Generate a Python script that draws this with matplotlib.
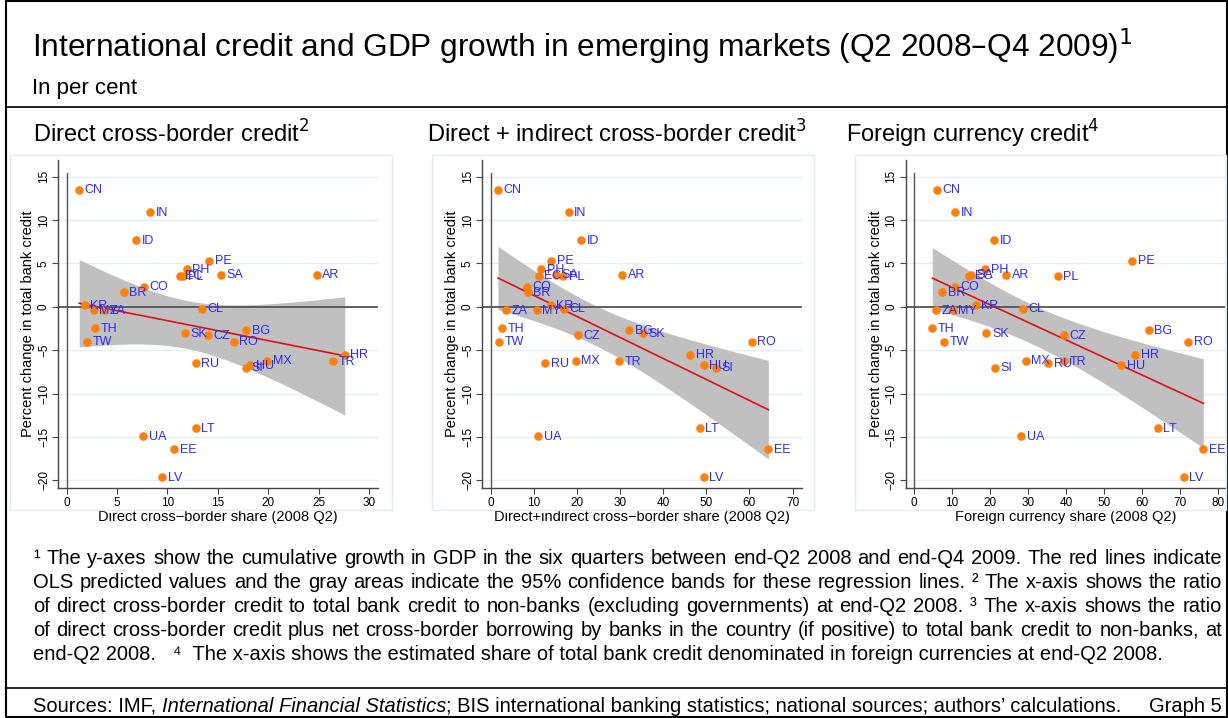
import numpy as np
import matplotlib
matplotlib.use("Agg")
import matplotlib.pyplot as plt
from matplotlib.patches import Rectangle
from matplotlib.lines import Line2D

plt.rcParams['font.family'] = ['Liberation Sans', 'DejaVu Sans']

W, H = 1228, 718

countries = ['CN', 'IN', 'ID', 'PE', 'PH', 'EC', 'PL', 'SA', 'AR', 'CO', 'BR',
             'KR', 'CL', 'MY', 'ZA', 'TH', 'SK', 'CZ', 'BG', 'RO', 'TW', 'MX',
             'TR', 'RU', 'HU', 'SI', 'HR', 'LT', 'UA', 'EE', 'LV']
credit_growth = [13.5, 10.9, 7.7, 5.3, 4.3, 3.6, 3.5, 3.7, 3.7, 2.3, 1.7,
                 0.2, -0.2, -0.35, -0.35, -2.5, -3.0, -3.3, -2.7, -4.0, -4.0, -6.2,
                 -6.3, -6.5, -6.7, -7.0, -5.5, -14.0, -14.9, -16.4, -19.6]
direct_share = [1.25, 8.3, 6.9, 14.15, 11.9, 11.2, 11.5, 15.35, 24.8, 7.7, 5.65,
                1.8, 13.4, 2.7, 3.7, 2.8, 11.7, 14.0, 17.8, 16.6, 2.05, 19.9,
                26.4, 12.8, 18.2, 17.8, 27.6, 12.8, 7.6, 10.7, 9.5]
indirect_share = [1.67, 18.1, 20.9, 14.0, 11.7, 11.1, 16.8, 15.1, 30.5, 8.4, 8.6,
                  13.9, 17.0, 10.7, 3.5, 2.7, 35.3, 20.2, 32.1, 60.5, 1.83, 19.7,
                  29.7, 12.6, 49.4, 52.3, 46.3, 48.5, 11.0, 64.4, 49.4]
fx_share = [6.2, 10.95, 21.1, 57.4, 18.85, 14.6, 37.8, 15.0, 24.3, 10.9, 7.45,
            16.3, 28.8, 10.3, 5.8, 4.9, 19.1, 39.5, 61.8, 72.2, 8.05, 29.4,
            39.5, 35.3, 54.5, 21.4, 58.2, 64.1, 28.2, 76.1, 70.9]

panel_titles = ['Direct cross-border credit$^2$',
                'Direct + indirect cross-border credit$^3$',
                'Foreign currency credit$^4$']
x_labels = ['Direct cross\u2212border share (2008 Q2)',
            'Direct+indirect cross\u2212border share (2008 Q2)',
            'Foreign currency share (2008 Q2)']
x_ticks = [np.arange(0, 31, 5), np.arange(0, 71, 10), np.arange(0, 81, 10)]
x_lims = [(-0.83, 30.9), (-1.97, 72.2), (-2.1, 81.9)]

footnote_lines = [
    "\u00b9 The y-axes show the cumulative growth in GDP in the six quarters between end-Q2 2008 and end-Q4 2009. The red lines indicate",
    "OLS predicted values and the gray areas indicate the 95% confidence bands for these regression lines.  \u00b2 The x-axis shows the ratio",
    "of direct cross-border credit to total bank credit to non-banks (excluding governments) at end-Q2 2008.  \u00b3 The x-axis shows the ratio",
    "of direct cross-border credit plus net cross-border borrowing by banks in the country (if positive) to total bank credit to non-banks, at",
]
footnote_last = "end-Q2 2008.   \u2074  The x-axis shows the estimated share of total bank credit denominated in foreign currencies at end-Q2 2008."

ORANGE = '#FF7F0A'
BLUE = '#2A2AF5'
GRID = '#E6EFF1'
AXC = '#444444'

fig = plt.figure(figsize=(W / 100, H / 100), dpi=100)


def fx(px):
    return px / W


def fy(py):
    return 1 - py / H


# outer frame and separators
fig.add_artist(Rectangle((fx(6), fy(717)), fx(1221), 716 / H, transform=fig.transFigure,
                         fill=False, edgecolor='black', lw=1.5))
fig.add_artist(Line2D([fx(6), fx(1227)], [fy(107), fy(107)], color='black', lw=1.2))
fig.add_artist(Line2D([fx(6), fx(1227)], [fy(688), fy(688)], color='black', lw=1.2))

fig.text(fx(32), fy(57), 'International credit and GDP growth in emerging markets (Q2 2008\u2013Q4 2009)$^1$',
         fontsize=22.8, va='baseline')
fig.text(fx(32), fy(94), 'In per cent', fontsize=16, va='baseline')

panel_boxes = [(10, 392), (432, 814), (855, 1226)]
axes_left = [58.3, 482.3, 905.7]
xs_all = [direct_share, indirect_share, fx_share]
title_x = [33, 427, 846]

y = np.array(credit_growth)
for i in range(3):
    bx0, bx1 = panel_boxes[i]
    fig.add_artist(Rectangle((fx(bx0), fy(510)), fx(bx1 - bx0), 355 / H, transform=fig.transFigure,
                             fill=False, edgecolor='#E4ECEE', lw=1))
    fig.text(fx(title_x[i]), fy(143), panel_titles[i], fontsize=17, va='baseline')

    ax = fig.add_axes([fx(axes_left[i]), fy(488.3), fx(319.7), (488.3 - 160) / H])
    x = np.array(xs_all[i])

    # OLS fit with 95% confidence band
    n = len(x)
    b, a = np.polyfit(x, y, 1)
    resid = y - (a + b * x)
    s = np.sqrt(np.sum(resid ** 2) / (n - 2))
    sxx = np.sum((x - x.mean()) ** 2)
    xg = np.linspace(x.min(), x.max(), 100)
    yg = a + b * xg
    se = s * np.sqrt(1 / n + (xg - x.mean()) ** 2 / sxx)
    t = 2.045
    ax.fill_between(xg, yg - t * se, yg + t * se, color='#C0C0C0', lw=0, zorder=1)
    ax.plot(xg, yg, color='#E0101A', lw=1.2, zorder=2)

    ax.axhline(0, color='#555555', lw=1.3, zorder=1.5)
    ax.axvline(0, color='#555555', lw=1.0, zorder=1.5, ymax=0.96)

    ax.scatter(x, y, s=38, color=ORANGE, zorder=3, linewidths=0)
    for c, xi, yi in zip(countries, x, y):
        ax.annotate(c, (xi, yi), xytext=(4, -0.5), textcoords='offset points',
                    va='center', ha='left', fontsize=9, color=BLUE, zorder=4)

    ax.set_xlim(*x_lims[i])
    ax.set_ylim(-20.9, 16.9)
    ax.set_yticks(np.arange(-20, 16, 5))
    ax.set_yticklabels([str(v).replace('-', '\u2212') for v in range(-20, 16, 5)],
                       rotation=90, va='center', fontsize=8.5)
    ax.set_xticks(x_ticks[i])
    ax.set_xticklabels([str(v) for v in x_ticks[i]], fontsize=8.5)
    ax.grid(axis='y', color=GRID, lw=1, zorder=0)
    ax.set_axisbelow(True)
    for sp in ['top', 'right']:
        ax.spines[sp].set_visible(False)
    for sp in ['left', 'bottom']:
        ax.spines[sp].set_color(AXC)
        ax.spines[sp].set_linewidth(1)
    ax.tick_params(direction='out', length=4, color=AXC, pad=2)
    ax.set_xlabel(x_labels[i], fontsize=10.5, labelpad=1)
    ax.set_ylabel('Percent change in total bank credit', fontsize=10.5, labelpad=2)

# footnotes, justified
renderer = fig.canvas.get_renderer()
fn_size = 14.5
line_y = [564, 588, 612, 636]
for ln, yy in zip(footnote_lines, line_y):
    words = ln.split()
    texts = [fig.text(0, fy(yy), w, fontsize=fn_size, va='baseline') for w in words]
    widths = [tt.get_window_extent(renderer).width for tt in texts]
    gap = (1222 - 33 - sum(widths)) / (len(words) - 1)
    xp = 33
    for tt, w in zip(texts, widths):
        tt.set_x(fx(xp))
        xp += w + gap
fig.text(fx(33), fy(660), footnote_last, fontsize=fn_size, va='baseline')

t1 = fig.text(fx(33), fy(712), 'Sources: IMF, ', fontsize=fn_size, va='baseline')
t2 = fig.text(0, 0, 'International Financial Statistics', fontsize=fn_size, style='italic',
              va='baseline')
t3 = fig.text(0, 0, '; BIS international banking statistics; national sources; authors\u2019 calculations.',
              fontsize=fn_size, va='baseline')
xp = 33 + t1.get_window_extent(renderer).width
t2.set_position((fx(xp), fy(712)))
xp += t2.get_window_extent(renderer).width
t3.set_position((fx(xp), fy(712)))
fig.text(fx(1222), fy(712), 'Graph 5', fontsize=fn_size, va='baseline', ha='right')

fig.savefig('out.png', dpi=100)
